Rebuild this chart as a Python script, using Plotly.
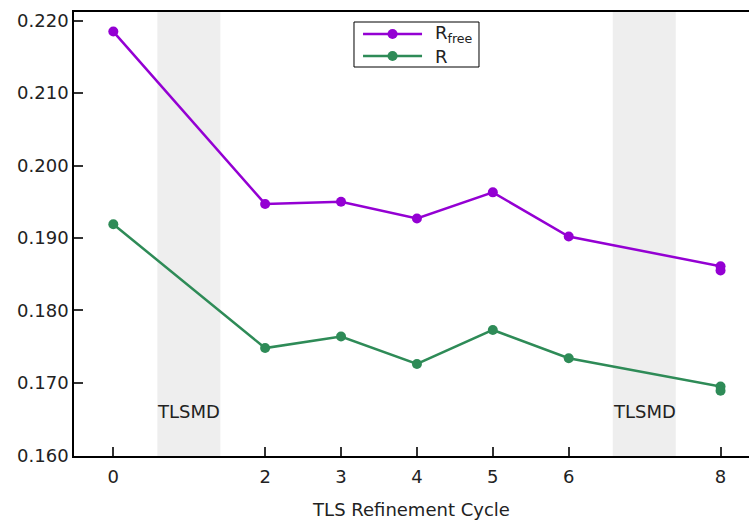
import plotly.graph_objects as go

# Refinement cycles and R factors
cycles = [0, 2, 3, 4, 5, 6, 8, 8]
r_free = [0.2185, 0.1947, 0.1950, 0.1927, 0.1963, 0.1902, 0.1861, 0.1855]
r_work = [0.1919, 0.1748, 0.1764, 0.1726, 0.1773, 0.1734, 0.1695, 0.1689]

# TLSMD analysis steps (shaded bands)
tlsmd_bands = [(0.58, 1.41), (6.58, 7.41)]
tlsmd_label = "TLSMD"

x_ticks = [0, 2, 3, 4, 5, 6, 8]
y_ticks = [0.160, 0.170, 0.180, 0.190, 0.200, 0.210, 0.220]

series_names = ["R<sub>free</sub>", "R"]

PURPLE = "#9400d3"
GREEN = "#2e8b57"
FONT = "DejaVu Sans"
TEXT = "#222222"

fig = go.Figure()

for name, ys, color in [(series_names[0], r_free, PURPLE), (series_names[1], r_work, GREEN)]:
    fig.add_trace(go.Scatter(
        x=cycles, y=ys, mode="lines+markers", name=name, showlegend=False,
        line=dict(color=color, width=2.5),
        marker=dict(color=color, size=10),
    ))

for x0, x1 in tlsmd_bands:
    fig.add_shape(type="rect", xref="x", yref="paper", x0=x0, x1=x1, y0=0, y1=1,
                  fillcolor="#eeeeee", line=dict(width=0), layer="below")
    fig.add_annotation(x=(x0 + x1) / 2, y=0.1660, xref="x", yref="y",
                       text=tlsmd_label, showarrow=False,
                       font=dict(family=FONT, size=18, color=TEXT))

# Boxed key with long line samples
key_cx, key_cy = 0.5074, 0.9268
fig.add_shape(type="rect", xref="paper", yref="paper",
              xsizemode="pixel", ysizemode="pixel",
              xanchor=key_cx, yanchor=key_cy,
              x0=-62.5, x1=62.5, y0=-22.5, y1=22.5,
              fillcolor="white", line=dict(color="black", width=1), layer="above")
key_rows = [0.9505, 0.9009]
sample_x = 0.4719
for name, color, ky in zip(series_names, [PURPLE, GREEN], key_rows):
    fig.add_shape(type="line", xref="paper", yref="paper",
                  xsizemode="pixel", ysizemode="pixel",
                  xanchor=sample_x, yanchor=ky,
                  x0=-29.5, x1=29.5, y0=0, y1=0,
                  line=dict(color=color, width=2.5), layer="above")
    fig.add_shape(type="circle", xref="paper", yref="paper",
                  xsizemode="pixel", ysizemode="pixel",
                  xanchor=sample_x, yanchor=ky,
                  x0=-5, x1=5, y0=-5, y1=5,
                  fillcolor=color, line=dict(color=color, width=0), layer="above")
    fig.add_annotation(x=0.5319, y=ky, xref="paper", yref="paper",
                       xanchor="left", yanchor="middle", showarrow=False,
                       text=name, font=dict(family=FONT, size=18, color=TEXT))

fig.update_layout(
    width=749, height=520,
    margin=dict(l=74, r=0, t=12, b=64),
    paper_bgcolor="white", plot_bgcolor="white",
    font=dict(family=FONT, size=18, color=TEXT),
    showlegend=False,
    xaxis=dict(
        range=[-0.518, 8.375], tickvals=x_ticks, ticktext=[str(v) for v in x_ticks],
        ticks="inside", ticklen=9, tickwidth=1.5, tickcolor="#333333",
        ticklabelstandoff=4,
        showline=True, linecolor="black", linewidth=1.5, mirror=True,
        showgrid=False, zeroline=False,
        title=dict(text="TLS Refinement Cycle", standoff=18,
                   font=dict(family=FONT, size=18, color=TEXT)),
        tickfont=dict(family=FONT, size=18, color=TEXT),
    ),
    yaxis=dict(
        range=[0.1599, 0.2212], tickvals=y_ticks,
        ticktext=[f"{v:.3f}" for v in y_ticks],
        ticks="inside", ticklen=9, tickwidth=1.5, tickcolor="#333333",
        showline=True, linecolor="black", linewidth=1.5,
        showgrid=False, zeroline=False,
        tickfont=dict(family=FONT, size=18, color=TEXT),
    ),
)

fig.write_html("out.html")
